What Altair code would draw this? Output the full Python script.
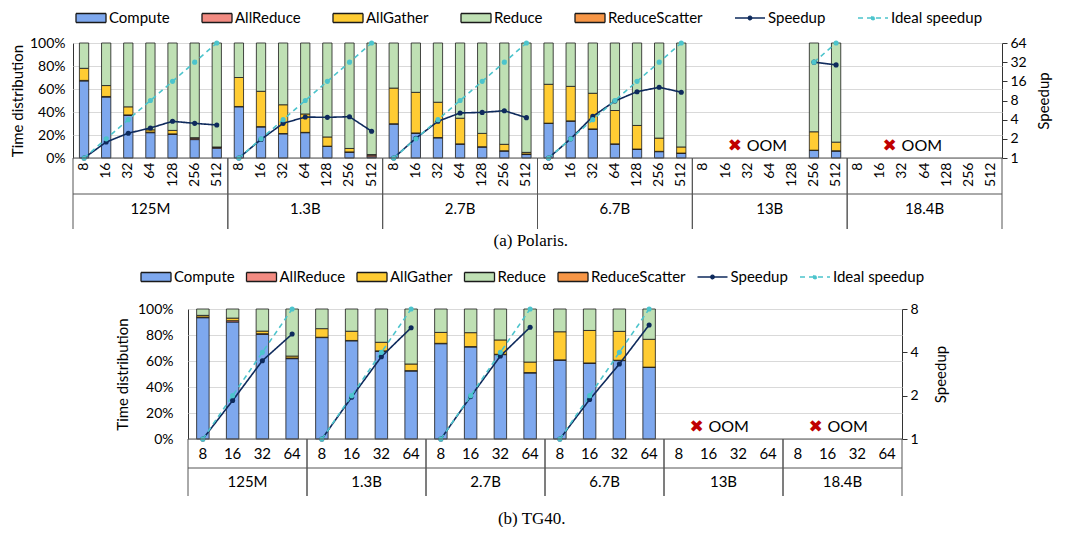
import altair as alt
import pandas as pd

FONT = "Lato"
SERIF = "Liberation Serif"

COMPONENTS = ["Compute", "AllReduce", "AllGather", "Reduce", "ReduceScatter"]
LINES = ["Speedup", "Ideal speedup"]
SERIES = COMPONENTS + LINES
MODELS = ["125M", "1.3B", "2.7B", "6.7B", "13B", "18.4B"]
FILL_COLORS = ["#7ea8ee", "#f28b82", "#ffcc33", "#bfe0b4", "#f79646", "#0e2a5c", "#4cc4cc"]
STROKE_COLORS = ["#1a1a1a", "#1a1a1a", "#1a1a1a", "#1a1a1a", "#1a1a1a", "#0e2a5c", "#4cc4cc"]
DASHES = [[1, 0], [1, 0], [1, 0], [1, 0], [1, 0], [1, 0], [5, 4]]
BAR_SHAPE = "M-1,-0.3H1V0.3H-1Z"
LINE_SHAPE = "M-1,0H1M-0.12,0A0.12,0.12,0,1,0,0.12,0A0.12,0.12,0,1,0,-0.12,0Z"
SHAPES = [BAR_SHAPE] * 5 + [LINE_SHAPE] * 2
OOM_MODELS = ["13B", "18.4B"]

# ---------------- (a) Polaris ----------------
POL_GPUS = [8, 16, 32, 64, 128, 256, 512]
N = None
POL_COMPUTE = {
    "125M": [67, 53, 37, 22, 20.5, 16, 8.5],
    "1.3B": [44.5, 27, 21, 22, 10, 5, 1],
    "2.7B": [29.5, 21.5, 17.5, 12, 9.5, 6, 3],
    "6.7B": [30, 32, 25, 12, 7.5, 5.5, 4],
    "13B": [N, N, N, N, N, 6.5, 6],
}
POL_ALLREDUCE = {
    "125M": [0.5, 0.5, 0.5, 0.5, 0.5, 1.2, 0.8],
    "1.3B": [0.3, 0.3, 0.3, 0.3, 0.3, 0.3, 1.5],
    "2.7B": [0.3, 0.3, 0.3, 0.3, 0.3, 0.3, 0.5],
    "6.7B": [0.3, 0.3, 0.3, 0.3, 0.3, 0.3, 0.3],
    "13B": [N, N, N, N, N, 0.3, 0.3],
}
POL_ALLGATHER = {
    "125M": [10.5, 9.5, 7, 2, 3, 0.5, 0.3],
    "1.3B": [25.2, 30.7, 25, 16, 8, 3, 0.5],
    "2.7B": [31, 35.3, 30.7, 22.3, 11.6, 5.6, 1.4],
    "6.7B": [33.8, 30, 31, 29, 20.5, 11.5, 5.3],
    "13B": [N, N, N, N, N, 16, 7.5],
}
POL_REDUCE = {
    "125M": [22, 37, 55.5, 75.5, 76, 82.3, 90.4],
    "1.3B": [30, 42, 53.7, 61.7, 81.7, 91.7, 97],
    "2.7B": [39.2, 42.9, 51.5, 65.4, 78.6, 88.1, 95.1],
    "6.7B": [35.9, 37.7, 43.7, 58.7, 71.7, 82.7, 90.4],
    "13B": [N, N, N, N, N, 77.2, 86.2],
}
POL_REDSCAT = {
    "125M": [0, 0, 0, 0, 0, 0, 0],
    "1.3B": [0, 0, 0, 0, 0, 0, 0],
    "2.7B": [0, 0, 0, 0, 0, 0, 0],
    "6.7B": [0, 0, 0, 0, 0, 0, 0],
    "13B": [N, N, N, N, N, 0, 0],
}
POL_SPEEDUP = {
    "125M": [1, 1.78, 2.45, 2.96, 3.77, 3.5, 3.3],
    "1.3B": [1, 1.96, 3.5, 4.4, 4.35, 4.45, 2.63],
    "2.7B": [1, 2.04, 3.77, 5.1, 5.2, 5.53, 4.3],
    "6.7B": [1, 2.0, 4.5, 7.85, 11, 12.9, 10.8],
    "13B": [N, N, N, N, N, 32, 29],
}
POL_IDEAL = {
    "125M": [1, 2, 4, 8, 16, 32, 64],
    "1.3B": [1, 2, 4, 8, 16, 32, 64],
    "2.7B": [1, 2, 4, 8, 16, 32, 64],
    "6.7B": [1, 2, 4, 8, 16, 32, 64],
    "13B": [N, N, N, N, N, 32, 64],
}
POL_RIGHT_TICKS = [1, 2, 4, 8, 16, 32, 64]

# ---------------- (b) TG40 ----------------
TG_GPUS = [8, 16, 32, 64]
TG_COMPUTE = {
    "125M": [93.3, 90, 80.5, 61.8],
    "1.3B": [78, 75.5, 67.5, 52.3],
    "2.7B": [73.3, 70.8, 64.9, 50.8],
    "6.7B": [60.6, 58.2, 60.3, 55],
}
TG_ALLREDUCE = {
    "125M": [0.5, 1, 0.5, 0.5],
    "1.3B": [0.3, 0.3, 0.3, 0.3],
    "2.7B": [0.3, 0.3, 0.3, 0.3],
    "6.7B": [0.3, 0.3, 0.3, 0.3],
}
TG_ALLGATHER = {
    "125M": [1.3, 2, 2, 1.5],
    "1.3B": [6.6, 7.1, 6.6, 5.1],
    "2.7B": [8.4, 10.7, 11, 8.1],
    "6.7B": [21.6, 25, 22.2, 21.4],
}
TG_REDUCE = {
    "125M": [4.9, 7, 17, 36.2],
    "1.3B": [15.1, 17.1, 25.6, 42.3],
    "2.7B": [18, 18.2, 23.8, 40.8],
    "6.7B": [17.5, 16.5, 17.2, 23.3],
}
TG_REDSCAT = {
    "125M": [0, 0, 0, 0],
    "1.3B": [0, 0, 0, 0],
    "2.7B": [0, 0, 0, 0],
    "6.7B": [0, 0, 0, 0],
}
TG_SPEEDUP = {
    "125M": [1, 1.85, 3.5, 5.36],
    "1.3B": [1, 1.95, 3.73, 5.93],
    "2.7B": [1, 1.97, 3.77, 5.98],
    "6.7B": [1, 1.88, 3.32, 6.2],
}
TG_IDEAL = {
    "125M": [1, 2, 4, 8],
    "1.3B": [1, 2, 4, 8],
    "2.7B": [1, 2, 4, 8],
    "6.7B": [1, 2, 4, 8],
}
TG_RIGHT_TICKS = [1, 2, 4, 8]


def bars_frame(gpus, tables):
    rows = []
    for m in MODELS:
        for i, g in enumerate(gpus):
            for k, (comp, tab) in enumerate(zip(COMPONENTS, tables)):
                vals = tab.get(m)
                if not vals or vals[i] is None or vals[i] <= 0:
                    continue
                rows.append({"key": f"{m}|{g}", "model": m, "series": comp,
                             "order": k, "value": vals[i]})
    return pd.DataFrame(rows)


def lines_frame(gpus, speed, ideal):
    rows = []
    for series, src in (("Speedup", speed), ("Ideal speedup", ideal)):
        for m in MODELS:
            vals = src.get(m)
            if not vals:
                continue
            for i, (g, v) in enumerate(zip(gpus, vals)):
                if v is None:
                    continue
                rows.append({"key": f"{m}|{g}", "model": m, "series": series,
                             "idx": i, "value": v})
    return pd.DataFrame(rows)


def make_legend(lx, ly, colpad):
    return alt.Legend(
        orient="none", legendX=lx, legendY=ly, direction="horizontal",
        title=None, symbolSize=900, symbolStrokeWidth=1.3,
        labelFont=FONT, labelFontSize=15, labelColor="black",
        columnPadding=colpad, labelOffset=2,
    )


def panel(gpus, tables, speed, ideal, right_ticks, width, height, rotate,
          tick_font, box_h, label_y, sep_end, legend, caption, cap_offset, cap_dx,
          oom_dx, ylab_pad, ytitle_pad, rtitle_pad):
    bdf = bars_frame(gpus, tables)
    ldf = lines_frame(gpus, speed, ideal)
    keys = [f"{m}|{g}" for m in MODELS for g in gpus]
    xscale = alt.Scale(domain=keys, paddingInner=0.58, paddingOuter=0.29)
    mscale = alt.Scale(domain=MODELS, paddingInner=0, paddingOuter=0)
    fill = alt.Fill("series:N", scale=alt.Scale(domain=SERIES, range=FILL_COLORS),
                    sort=SERIES, legend=legend)
    stroke = alt.Stroke("series:N", scale=alt.Scale(domain=SERIES, range=STROKE_COLORS),
                        sort=SERIES, legend=legend)
    dash = alt.StrokeDash("series:N", scale=alt.Scale(domain=SERIES, range=DASHES),
                          sort=SERIES, legend=legend)
    shape = alt.Shape("series:N", scale=alt.Scale(domain=SERIES, range=SHAPES),
                      sort=SERIES, legend=legend)

    bars = alt.Chart(bdf).mark_bar(stroke="#1a1a1a", strokeWidth=0.8).encode(
        x=alt.X("key:N", scale=xscale, sort=keys, title=None,
                axis=alt.Axis(labelExpr="split(datum.value, '|')[1]",
                              labelAngle=270 if rotate else 0,
                              labelFontSize=tick_font, labelPadding=4 if rotate else 7,
                              ticks=False, domain=False, grid=False)),
        y=alt.Y("value:Q", stack="zero", scale=alt.Scale(domain=[0, 100], nice=False),
                title="Time distribution",
                axis=alt.Axis(values=[0, 20, 40, 60, 80, 100],
                              labelExpr="datum.value + '%'", grid=True,
                              gridColor="#d9d9d9", ticks=False, domain=False,
                              labelFontSize=14, labelPadding=ylab_pad,
                              titleFontSize=15, titlePadding=ytitle_pad)),
        fill=fill,
        order=alt.Order("order:Q", sort="ascending"),
    )

    sx = alt.X("key:N", scale=xscale, sort=keys, axis=None)
    sy = alt.Y("value:Q", title="Speedup",
               scale=alt.Scale(type="log", base=2, domain=[1, right_ticks[-1]], nice=False),
               axis=alt.Axis(orient="right", values=right_ticks, format="d", grid=False,
                             ticks=True, tickSize=5, tickColor="#333", domain=False,
                             labelFontSize=14, labelPadding=3, titleFontSize=15,
                             titlePadding=rtitle_pad, titleAngle=270, titleBaseline="top"))
    line = alt.Chart(ldf).mark_line(strokeWidth=1.6).encode(
        x=sx, y=sy, stroke=stroke, strokeDash=dash, detail="model:N",
        order=alt.Order("idx:Q"),
    )
    dots = alt.Chart(ldf).mark_circle(size=26, opacity=1).encode(x=sx, y=sy, fill=fill)
    speed_layer = alt.layer(line, dots)

    shape_df = pd.DataFrame({"series": pd.Series([], dtype=str)})
    shapes = alt.Chart(shape_df).mark_point(filled=True).encode(shape=shape)

    gdf = pd.DataFrame({"model": MODELS})
    gx = alt.X("model:N", scale=mscale, sort=MODELS, axis=None)
    box = alt.Chart(gdf).mark_rect(fillOpacity=0, stroke="#555", strokeWidth=1).encode(
        x=gx, y=alt.value(height), y2=alt.value(height + box_h))
    sep_l = alt.Chart(gdf).mark_rule(color="#555", strokeWidth=1).encode(
        x=alt.X("model:N", scale=mscale, sort=MODELS, axis=None, bandPosition=0),
        y=alt.value(height + box_h), y2=alt.value(height + sep_end))
    sep_r = alt.Chart(gdf).mark_rule(color="#555", strokeWidth=1).encode(
        x=alt.X("model:N", scale=mscale, sort=MODELS, axis=None, bandPosition=1),
        y=alt.value(height + box_h), y2=alt.value(height + sep_end))
    glabels = alt.Chart(gdf).mark_text(font=FONT, fontSize=15, baseline="middle",
                                       color="black").encode(
        x=gx, y=alt.value(height + label_y), text="model:N")

    odf = pd.DataFrame({"model": OOM_MODELS, "cross": ["✖", "✖"], "label": ["OOM", "OOM"]})
    cross = alt.Chart(odf).mark_text(font="DejaVu Sans", fontSize=17, color="#c00000",
                                     align="center", baseline="middle", dx=oom_dx).encode(
        x=gx, y=alt.value(height - 12), text="cross:N")
    oom = alt.Chart(odf).mark_text(font=FONT, fontSize=16, color="black",
                                   align="left", baseline="middle", dx=oom_dx + 12).encode(
        x=gx, y=alt.value(height - 12), text="label:N")

    return alt.layer(bars, speed_layer, shapes, box, sep_l, sep_r, glabels, cross, oom).resolve_scale(
        x="independent", y="independent"
    ).properties(
        width=width, height=height,
        title=alt.TitleParams(caption, orient="bottom", font=SERIF, fontSize=17,
                              fontWeight="normal", color="black", offset=cap_offset,
                              frame="bounds", dx=cap_dx),
    )


top = panel(POL_GPUS,
            [POL_COMPUTE, POL_ALLREDUCE, POL_ALLGATHER, POL_REDUCE, POL_REDSCAT],
            POL_SPEEDUP, POL_IDEAL, POL_RIGHT_TICKS,
            width=929, height=115, rotate=True, tick_font=14,
            box_h=36, label_y=51, sep_end=71,
            legend=make_legend(2, -41, 29), caption="(a) Polaris.", cap_offset=3,
            cap_dx=0, oom_dx=-35, ylab_pad=8, ytitle_pad=4, rtitle_pad=10)

bottom = panel(TG_GPUS,
               [TG_COMPUTE, TG_ALLREDUCE, TG_ALLGATHER, TG_REDUCE, TG_REDSCAT],
               TG_SPEEDUP, TG_IDEAL, TG_RIGHT_TICKS,
               width=714, height=130, rotate=False, tick_font=15,
               box_h=29, label_y=43, sep_end=57,
               legend=make_legend(-48, -48, 8.5), caption="(b) TG40.", cap_offset=14,
               cap_dx=0, oom_dx=-27, ylab_pad=15, ytitle_pad=7, rtitle_pad=15)

# empty spacer that pushes the TG40 panel to its place on the row
spacer = alt.Chart(pd.DataFrame({"s": [""]})).mark_text().encode(
    text="s:N", x=alt.value(0), y=alt.value(0)
).properties(width=41, height=10, view=alt.ViewBackground(strokeOpacity=0))

bottom_row = alt.hconcat(spacer, bottom, spacing=0).resolve_legend(
    fill="independent", stroke="independent", strokeDash="independent", shape="independent"
)

chart = alt.vconcat(top, bottom_row, spacing=11).resolve_legend(
    fill="independent", stroke="independent", strokeDash="independent", shape="independent"
).properties(
    padding={"left": 1, "top": -7, "right": 5, "bottom": 0}
).configure_view(
    stroke="#333", strokeWidth=1
).configure_axis(
    labelFont=FONT, titleFont=FONT, labelColor="black", titleColor="black",
    titleFontWeight="normal"
).configure_text(font=FONT)

chart.save("out.html", embed_options={"renderer": "svg", "actions": False})
